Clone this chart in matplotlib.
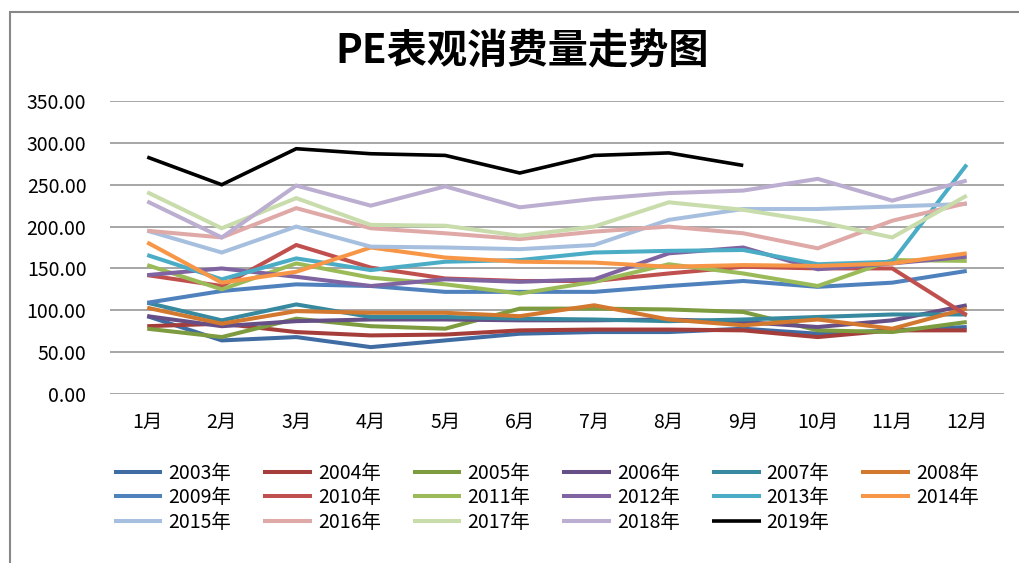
import matplotlib
matplotlib.use("Agg")
import matplotlib.pyplot as plt
from matplotlib.patches import Rectangle

plt.rcParams['font.family'] = ['Noto Sans CJK SC', 'DejaVu Sans']

months = ['1月', '2月', '3月', '4月', '5月', '6月', '7月', '8月', '9月', '10月', '11月', '12月']
yticks = [0, 50, 100, 150, 200, 250, 300, 350]

y2003 = [93, 64, 68, 56, 64, 72, 74, 74, 78, 72, 76, 80]
y2004 = [81, 84, 74, 70, 71, 76, 77, 77, 76, 68, 76, 76]
y2005 = [78, 68, 90, 81, 78, 102, 102, 101, 98, 76, 74, 86]
y2006 = [93, 81, 87, 89, 89, 88, 88, 89, 86, 80, 88, 106]
y2007 = [109, 88, 107, 92, 92, 90, 89, 87, 89, 92, 95, 95]
y2008 = [103, 84, 99, 97, 97, 93, 106, 89, 82, 89, 78, 102]
y2009 = [109, 123, 131, 129, 122, 122, 122, 129, 135, 128, 133, 147]
y2010 = [142, 129, 178, 151, 138, 135, 135, 144, 152, 150, 150, 94]
y2011 = [154, 125, 156, 139, 131, 120, 134, 155, 144, 129, 160, 159]
y2012 = [142, 150, 140, 129, 137, 134, 137, 168, 175, 149, 156, 164]
y2013 = [166, 137, 162, 148, 158, 160, 169, 171, 172, 155, 158, 274]
y2014 = [181, 133, 146, 175, 163, 158, 157, 152, 154, 153, 156, 168]
y2015 = [195, 169, 200, 176, 175, 173, 178, 208, 221, 221, 224, 227]
y2016 = [195, 187, 222, 198, 192, 185, 194, 200, 192, 174, 207, 228]
y2017 = [241, 198, 234, 202, 201, 189, 200, 229, 220, 206, 187, 237]
y2018 = [230, 187, 249, 225, 248, 223, 233, 240, 243, 257, 231, 255]
y2019 = [283, 250, 293, 287, 285, 264, 285, 288, 273]

series = [
    ('2003年', y2003, '#3f6ca3'),
    ('2004年', y2004, '#a53e3b'),
    ('2005年', y2005, '#7d9b3f'),
    ('2006年', y2006, '#664f86'),
    ('2007年', y2007, '#37899f'),
    ('2008年', y2008, '#d2782f'),
    ('2009年', y2009, '#4f81bd'),
    ('2010年', y2010, '#c0504d'),
    ('2011年', y2011, '#9bbb59'),
    ('2012年', y2012, '#8064a2'),
    ('2013年', y2013, '#4bacc6'),
    ('2014年', y2014, '#f79646'),
    ('2015年', y2015, '#a7bfdf'),
    ('2016年', y2016, '#dfa9a7'),
    ('2017年', y2017, '#c9dcab'),
    ('2018年', y2018, '#bcaed0'),
    ('2019年', y2019, '#000000'),
]

fig = plt.figure(figsize=(10.19, 5.63), dpi=100)
fig.patches.append(Rectangle((10/1019, -0.01), 1.0, (563-12)/563 + 0.01,
                             transform=fig.transFigure, fill=False,
                             edgecolor='#888888', linewidth=1.5))

ax = fig.add_axes([110/1019, (563-394)/563, (1004-110)/1019, (394-101)/563])
x = list(range(1, 13))
handles = []
for name, vals, col in series:
    lw = 2.6 if name == '2019年' else 2.9
    ln, = ax.plot(x[:len(vals)], vals, color=col, linewidth=lw, label=name,
                  solid_capstyle='butt', solid_joinstyle='miter')
    handles.append(ln)

ax.set_xlim(0.5, 12.5)
ax.set_ylim(0, 350)
ax.set_yticks(yticks)
ax.set_yticklabels([f'{v:.2f}' for v in yticks])
ax.set_xticks(x)
ax.set_xticklabels(months)
ax.tick_params(axis='both', length=0, labelsize=14, colors='#000000')
ax.tick_params(axis='y', pad=17)
ax.tick_params(axis='x', pad=13)
ax.grid(axis='y', color='#a6a6a6', linewidth=1.4)
ax.set_axisbelow(True)
for s in ax.spines.values():
    s.set_visible(False)

fig.text(522/1019, 1 - 52/563, 'PE表观消费量走势图', ha='center', va='center',
         fontsize=29, fontweight='bold')

# row-major legend order for 6 columns
ncol = 6
order = []
for c in range(ncol):
    for r in range(3):
        i = r * ncol + c
        if i < len(handles):
            order.append(i)
leg = fig.legend([handles[i] for i in order], [handles[i].get_label() for i in order],
                 loc='upper left', bbox_to_anchor=(106/1019, 1 - 455/563),
                 ncol=ncol, frameon=False, fontsize=14, handlelength=2.5,
                 handletextpad=0.3, columnspacing=1.65, labelspacing=0.18,
                 borderaxespad=0)

fig.savefig('out.png', dpi=100)
